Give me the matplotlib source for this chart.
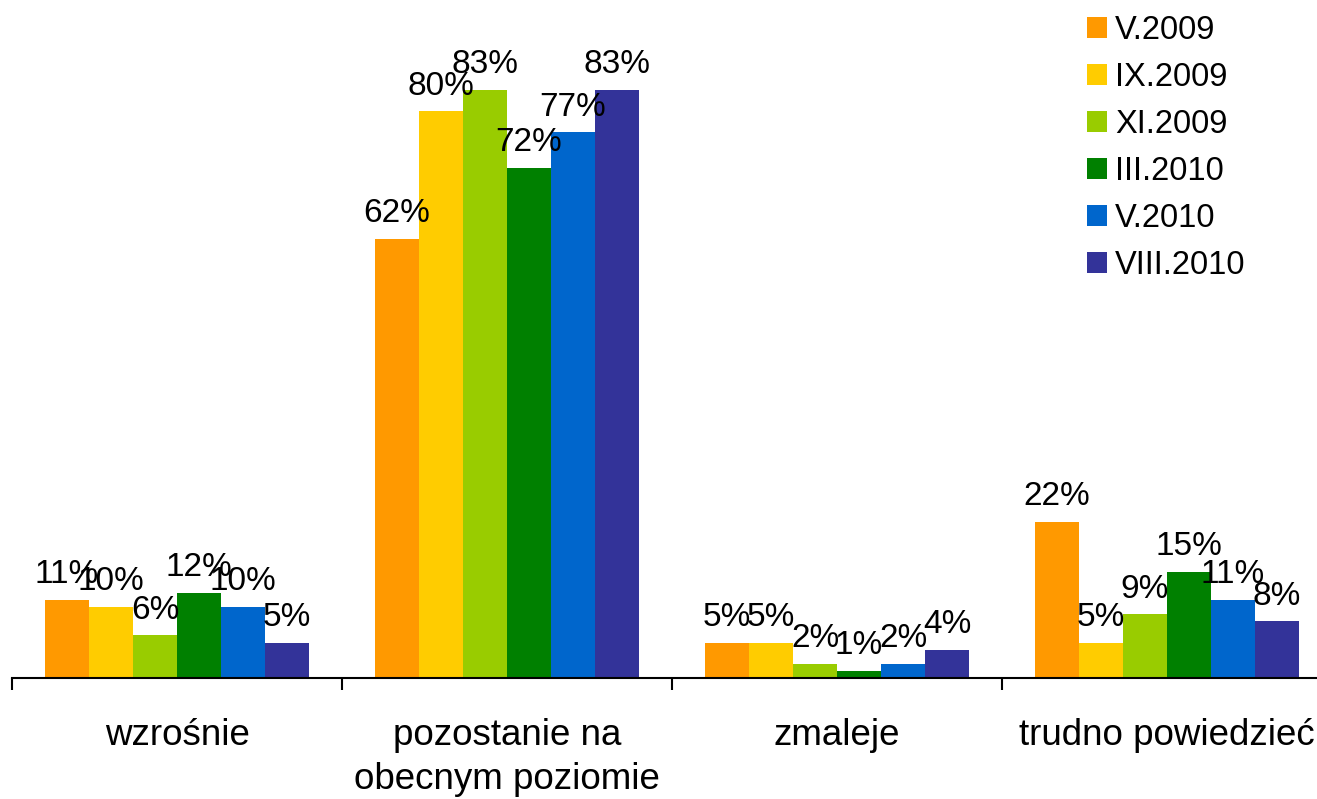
import numpy as np
import matplotlib
matplotlib.use("Agg")
import matplotlib.pyplot as plt
from matplotlib.patches import Patch

plt.rcParams['font.family'] = ['Liberation Sans', 'DejaVu Sans']

# dane
kategorie = ['wzrośnie', 'pozostanie na\nobecnym poziomie', 'zmaleje', 'trudno powiedzieć']
serie = ['V.2009', 'IX.2009', 'XI.2009', 'III.2010', 'V.2010', 'VIII.2010']
v_2009 = [11, 62, 5, 22]
ix_2009 = [10, 80, 5, 5]
xi_2009 = [6, 83, 2, 9]
iii_2010 = [12, 72, 1, 15]
v_2010 = [10, 77, 2, 11]
viii_2010 = [5, 83, 4, 8]
wartosci = [v_2009, ix_2009, xi_2009, iii_2010, v_2010, viii_2010]
kolory = ['#FF9900', '#FFCC00', '#99CC00', '#008000', '#0066CC', '#333399']

W, H = 1317, 799
fig = plt.figure(figsize=(W / 100, H / 100), dpi=100)

# osie wychodza poza prawa krawedz (jak w oryginale)
ax_left, ax_right = 12, 1332
ax_bottom, ax_top = 678, 40.4
ax = fig.add_axes([ax_left / W, 1 - ax_bottom / H,
                   (ax_right - ax_left) / W, (ax_bottom - ax_top) / H])

n = len(serie)
szer = 0.8 / n
x = np.arange(len(kategorie))

for j in range(n):
    pos = x + (j - (n - 1) / 2) * szer
    ax.bar(pos, wartosci[j], width=szer, color=kolory[j], label=serie[j], linewidth=0)
    for xp, val in zip(pos, wartosci[j]):
        ax.annotate(f'{val}%', (xp, val), xytext=(0, 12), textcoords='offset points',
                    ha='center', va='baseline', fontsize=24)

ax.set_xlim(-0.5, len(kategorie) - 0.5)
ax.set_ylim(0, 90)

for s in ['left', 'right', 'top']:
    ax.spines[s].set_visible(False)
ax.spines['bottom'].set_linewidth(1.5)
ax.set_yticks([])

ax.set_xticks(x)
ax.set_xticklabels(kategorie, fontsize=26.5, linespacing=1.32)
ax.set_xticks(np.arange(len(kategorie) + 1) - 0.5, minor=True)
ax.tick_params(axis='x', which='major', length=0, pad=29)
ax.tick_params(axis='x', which='minor', length=8.6, width=1.5, direction='out')

uchwyty = [Patch(facecolor=c, edgecolor='none') for c in kolory]
fig.legend(uchwyty, serie, loc='upper left', bbox_to_anchor=(1087 / W, 1 - 15 / H),
           frameon=False, fontsize=23.5, handlelength=0.61, handleheight=0.61,
           handletextpad=0.25, labelspacing=0.49, borderpad=0, borderaxespad=0)

fig.savefig('out.png', dpi=100)
